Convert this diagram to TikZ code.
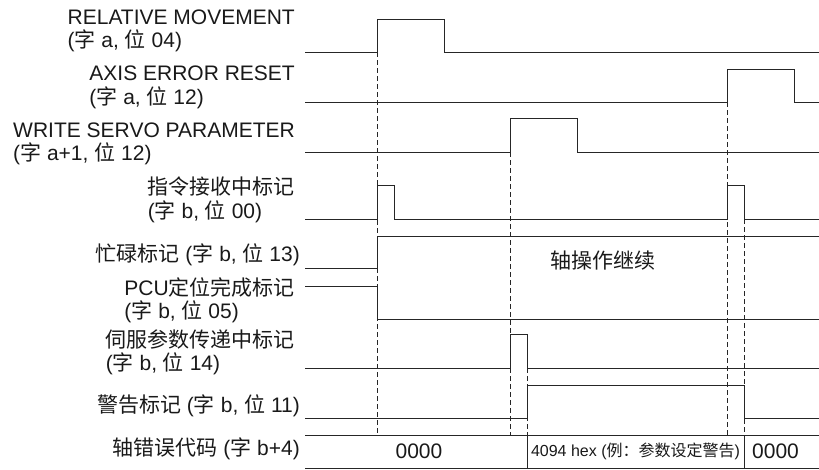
\documentclass[tikz,border=0pt]{standalone}
\usepackage{fontspec}
\setmainfont{Liberation Sans}
\newfontfamily\cjk{Noto Sans CJK SC}
\newcommand{\zh}[1]{{\cjk #1}}
\begin{document}
\begin{tikzpicture}[x=1pt,y=-1pt,
  wave/.style={line width=0.9pt, draw=black!85, line join=miter},
  guide/.style={line width=0.8pt, draw=black!85, dash pattern=on 5pt off 3pt},
  lbl/.style={anchor=east, align=left, inner sep=0pt, font=\fontsize{21}{23.5}\selectfont, text=black!90},
  cell/.style={inner sep=0pt, font=\fontsize{21}{23.5}\selectfont, text=black!90},
  smallcell/.style={inner sep=0pt, font=\fontsize{16}{18}\selectfont, text=black!90}]
\useasboundingbox (0,0) rectangle (819,469);

% labels
\node[lbl] (lrm) at (295,31) {RELATIVE MOVEMENT\\(\zh{字} a, \zh{位} 04)};
\node[lbl] (laer) at (295,87.5) {AXIS ERROR RESET\\(\zh{字} a, \zh{位} 12)};
\node[lbl] (lwsp) at (295,144) {WRITE SERVO PARAMETER\\(\zh{字} a+1, \zh{位} 12)};
\node[lbl] (lcmd) at (295,200) {\zh{指令接收中标记}\\(\zh{字} b, \zh{位} 00)};
\node[lbl] (lbusy) at (300,255) {\zh{忙碌标记} (\zh{字} b, \zh{位} 13)};
\node[lbl] (lpcu) at (295,300.5) {PCU\zh{定位完成标记}\\(\zh{字} b, \zh{位} 05)};
\node[lbl] (lsrv) at (295,352.5) {\zh{伺服参数传递中标记}\\(\zh{字} b, \zh{位} 14)};
\node[lbl] (lwarn) at (300,406) {\zh{警告标记} (\zh{字} b, \zh{位} 11)};
\node[lbl] (lerr) at (300,449) {\zh{轴错误代码} (\zh{字} b+4)};

% waveforms
\draw[wave] (305,52) -- (377,52) -- (377,19) -- (444,19) -- (444,52) -- (819,52);
\draw[wave] (305,102) -- (727,102) -- (727,69) -- (794,69) -- (794,102) -- (819,102);
\draw[wave] (305,152) -- (510,152) -- (510,118) -- (577,118) -- (577,152) -- (819,152);
\draw[wave] (305,219) -- (377,219) -- (377,185) -- (394,185) -- (394,219) -- (727,219) -- (727,185) -- (744,185) -- (744,219) -- (819,219);
\draw[wave] (305,268) -- (377,268) -- (377,236) -- (819,236);
\draw[wave] (305,286) -- (377,286) -- (377,319) -- (819,319);
\draw[wave] (305,368) -- (510,368) -- (510,334) -- (527,334) -- (527,368) -- (819,368);
\draw[wave] (305,418) -- (527,418) -- (527,385) -- (744,385) -- (744,418) -- (819,418);

% error code row
\draw[wave] (305,435) -- (819,435);
\draw[wave] (305,468) -- (819,468);
\draw[wave] (527,435) -- (527,468);
\draw[wave] (744,435) -- (744,468);

% guide lines
\draw[guide] (377,52) -- (377,435);
\draw[guide] (510,152) -- (510,435);
\draw[guide] (527,368) -- (527,435);
\draw[guide] (727,102) -- (727,435);
\draw[guide] (744,219) -- (744,435);

% texts
\node[cell] (op) at (603,261) {\zh{轴操作继续}};
\node[cell] (c1) at (419,451) {0000};
\node[smallcell] (c2) at (635.5,451) {4094 hex (\zh{例：参数设定警告})};
\node[cell] (c3) at (775.5,451) {0000};
\end{tikzpicture}
\end{document}
